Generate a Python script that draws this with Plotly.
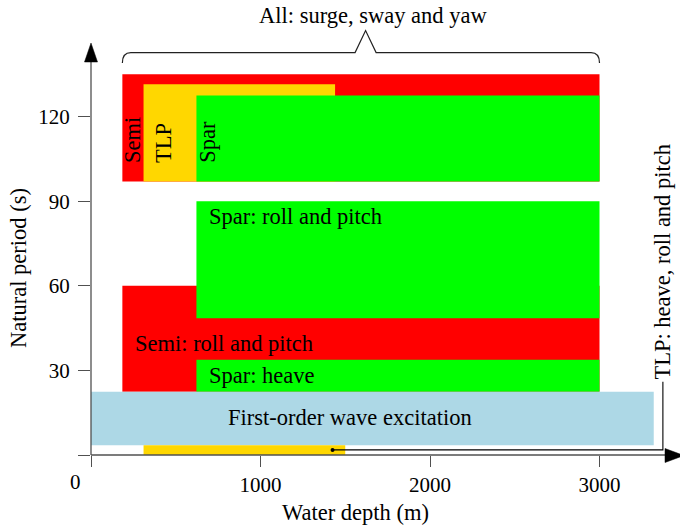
import plotly.graph_objects as go

# ---------------- data ----------------
region_names = ["Semi", "TLP", "Spar",
                "Semi: roll and pitch", "Spar: roll and pitch", "Spar: heave",
                "First-order wave excitation", "TLP: heave, roll and pitch"]
depth_min = [185, 310, 622, 185, 622, 622, 0, 310]
depth_max = [3000, 1440, 3000, 3000, 3000, 3000, 3320, 1500]
period_min = [97, 97, 97, 22.4, 48.5, 22.4, 3.5, 0]
period_max = [135, 131.5, 127.5, 60, 90, 33.8, 22.4, 3.5]
region_colors = ["#ff0000", "#ffd700", "#00ff00", "#ff0000", "#00ff00",
                 "#00ff00", "#add8e6", "#ffd700"]

x_tick_vals = [0, 1000, 2000, 3000]
x_tick_text = ["", "1000", "2000", "3000"]
y_tick_vals = [0, 30, 60, 90, 120]
y_tick_text = ["", "30", "60", "90", "120"]

brace_label = "All: surge, sway and yaw"
brace_span = [185, 3000]
x_label = "Water depth (m)"
y_label = "Natural period (s)"

# ---------------- layout geometry ----------------
W, H = 680, 527
ML, MR, MT, MB = 91, 0, 0, 72
PW, PH = W - ML - MR, H - MT - MB
X_MAX = PW / 0.1695
Y_MAX = PH / 2.82

FONT = "Liberation Serif"
FS = 22.5
FS_TICK = 21
AX_COL = "#505050"


def px(x):
    return (x - ML) / PW


def py(y):
    return (MT + PH - y) / PH


fig = go.Figure()

shapes = []
for x0, x1, y0, y1, c in zip(depth_min, depth_max, period_min, period_max, region_colors):
    shapes.append(dict(type="rect", xref="x", yref="y", x0=x0, x1=x1, y0=y0, y1=y1,
                       fillcolor=c, line=dict(width=0), layer="below"))

# brace over all regions
bl, br = brace_span
bmid = 1620
by, bend, btip = 142.7, 139.0, 150.5
brace_path = (f"M {bl},{bend} Q {bl},{by} {bl+50},{by} L {bmid-62},{by} "
              f"L {bmid},{btip} L {bmid+62},{by} L {br-50},{by} Q {br},{by} {br},{bend}")
shapes.append(dict(type="path", xref="x", yref="y", path=brace_path,
                   line=dict(color="#222222", width=1.2)))

# axes lines with arrow heads
shapes.append(dict(type="line", xref="paper", yref="paper", x0=px(91), x1=px(91),
                   y0=py(455), y1=py(60), line=dict(color=AX_COL, width=1.3)))
shapes.append(dict(type="path", xref="paper", yref="paper",
                   path=f"M {px(91)},{py(43)} L {px(84.5)},{py(62)} L {px(97.5)},{py(62)} Z",
                   fillcolor="black", line=dict(color="black", width=0.5)))
shapes.append(dict(type="line", xref="paper", yref="paper", x0=px(91), x1=px(667),
                   y0=py(455), y1=py(455), line=dict(color=AX_COL, width=1.3)))
shapes.append(dict(type="path", xref="paper", yref="paper",
                   path=f"M {px(684)},{py(455.5)} L {px(665)},{py(448.5)} L {px(665)},{py(462.5)} Z",
                   fillcolor="black", line=dict(color="black", width=0.5)))

# connector from TLP heave bar to its label
conn_x = [1425, 3374, 3374]
conn_y = [1.8, 1.8, 26]
fig.add_trace(go.Scatter(x=conn_x, y=conn_y, mode="lines",
                         line=dict(color="black", width=1.1), hoverinfo="skip",
                         showlegend=False))
fig.add_trace(go.Scatter(x=[conn_x[0]], y=[conn_y[0]], mode="markers",
                         marker=dict(color="black", size=4), hoverinfo="skip",
                         showlegend=False))

font = dict(family=FONT, size=FS, color="black")
tfont = dict(family=FONT, size=FS_TICK, color="black")
ann = []
# rotated platform labels
for name, xx in [(region_names[0], 244), (region_names[1], 427), (region_names[2], 686)]:
    ann.append(dict(x=xx, y=103, xref="x", yref="y", text=name, textangle=-90,
                    showarrow=False, xanchor="center", yanchor="bottom", font=font))
ann.append(dict(x=686, y=84.5, text=region_names[4], showarrow=False,
                xanchor="left", yanchor="middle", font=font))
ann.append(dict(x=250, y=39.7, text=region_names[3], showarrow=False,
                xanchor="left", yanchor="middle", font=font))
ann.append(dict(x=686, y=28.1, text=region_names[5], showarrow=False,
                xanchor="left", yanchor="middle", font=font))
ann.append(dict(x=1529, y=13.2, text=region_names[6], showarrow=False,
                xanchor="center", yanchor="middle", font=font))
ann.append(dict(x=3374, y=26, text=region_names[7], textangle=-90, showarrow=False,
                xanchor="center", yanchor="bottom", font=font))
ann.append(dict(x=1664, y=156, text=brace_label, showarrow=False,
                xanchor="center", yanchor="middle", font=font))
# origin label
ann.append(dict(x=0, y=0, text="0", showarrow=False, xanchor="center",
                yanchor="middle", xshift=-16, yshift=-26.5, font=tfont))
# axis titles
ann.append(dict(x=px(355), y=py(512), xref="paper", yref="paper", text=x_label,
                showarrow=False, xanchor="center", yanchor="middle", font=font))
ann.append(dict(x=px(18), y=py(268), xref="paper", yref="paper", text=y_label,
                textangle=-90, showarrow=False, xanchor="center", yanchor="middle",
                font=font))

fig.update_layout(
    width=W, height=H,
    margin=dict(l=ML, r=MR, t=MT, b=MB, autoexpand=False),
    plot_bgcolor="white", paper_bgcolor="white",
    shapes=shapes, annotations=ann, showlegend=False,
    font=font,
    xaxis=dict(range=[0, X_MAX], tickvals=x_tick_vals, ticktext=x_tick_text,
               ticks="outside", ticklen=11, tickwidth=1.2, tickcolor=AX_COL,
               showgrid=False, zeroline=False, showline=False,
               tickfont=tfont, automargin=False, fixedrange=True),
    yaxis=dict(range=[0, Y_MAX], tickvals=y_tick_vals, ticktext=y_tick_text,
               ticks="outside", ticklen=12, tickwidth=1.2, tickcolor=AX_COL,
               showgrid=False, zeroline=False, showline=False,
               tickfont=tfont, automargin=False, fixedrange=True,
               ticklabelstandoff=4),
)

fig.write_html("out.html", config={"displayModeBar": False},
               post_script="document.body.style.margin='0px';")
